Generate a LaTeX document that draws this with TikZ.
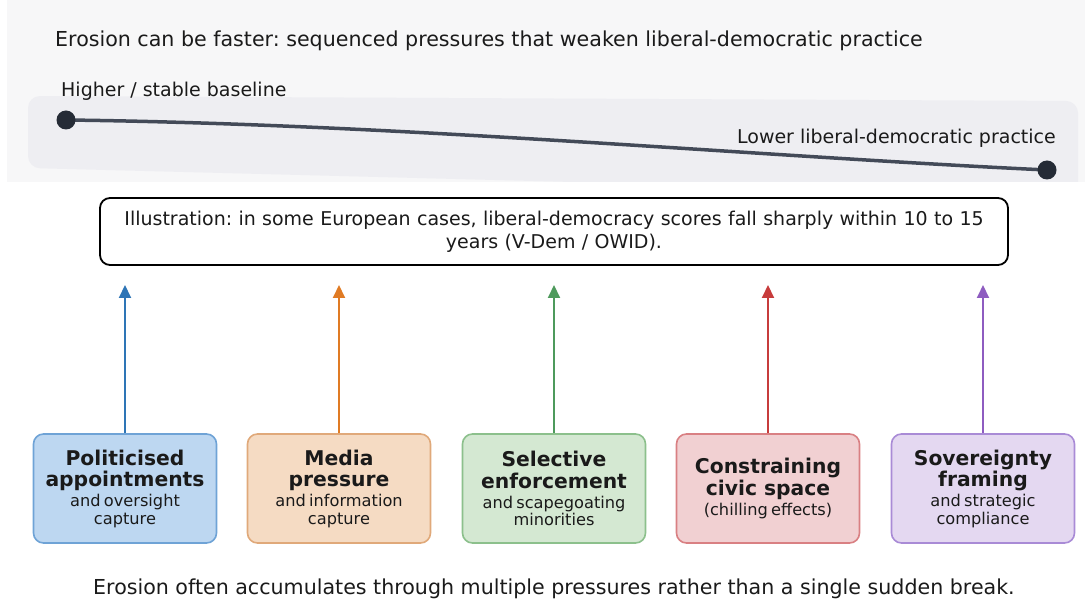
\documentclass[tikz,border=0pt]{standalone}
\usepackage{fontspec}
\setmainfont{DejaVu Sans}
\usetikzlibrary{arrows.meta}
\frenchspacing

\definecolor{panelbg}{HTML}{F7F7F8}
\definecolor{bandbg}{HTML}{EEEEF2}
\definecolor{trend}{HTML}{434A58}
\definecolor{trenddot}{HTML}{252B36}
\definecolor{txt}{HTML}{1A1A1A}

\definecolor{blueline}{HTML}{2E75B6}
\definecolor{bluefill}{HTML}{BDD7F1}
\definecolor{blueedge}{HTML}{6FA3D6}
\definecolor{orangeline}{HTML}{E07B24}
\definecolor{orangefill}{HTML}{F5DBC3}
\definecolor{orangeedge}{HTML}{E0A97A}
\definecolor{greenline}{HTML}{4E9A5C}
\definecolor{greenfill}{HTML}{D4E8D2}
\definecolor{greenedge}{HTML}{8CC08C}
\definecolor{redline}{HTML}{C73C3C}
\definecolor{redfill}{HTML}{F1D0D2}
\definecolor{rededge}{HTML}{D98083}
\definecolor{purpleline}{HTML}{8E5CC0}
\definecolor{purplefill}{HTML}{E4D8F1}
\definecolor{purpleedge}{HTML}{A98BD6}

% heading (bold) and detail (regular) of a pressure card
\newcommand\cardtext[2]{%
  {\fontsize{20.3}{21.5}\selectfont\bfseries #1\par}\vspace{2.5pt}%
  {\fontsize{16.2}{17.5}\selectfont #2\par}}

\begin{document}
\begin{tikzpicture}[x=1pt,y=-1pt,
  every node/.style={text=txt, inner sep=0pt},
  card/.style n args={2}{draw=#1, fill=#2, line width=1.6pt,
    rounded corners=10pt, minimum width=183pt, minimum height=109pt,
    align=center, text width=178pt},
  feed/.style={-{Triangle[length=13pt,width=12pt]}, line width=2pt},
  labeltext/.style={font=\fontsize{19}{22}\selectfont},
  headtext/.style={font=\fontsize{20.6}{24}\selectfont},
  dotmark/.style={fill=trenddot}
]
\useasboundingbox (0,0) rectangle (1085,601);

% top panel with the trend band
\fill[panelbg] (7,0) rectangle (1085,182);
\begin{scope}
  \clip (7,0) rectangle (1085,182);
  \fill[bandbg, rounded corners=12pt] (28,96) -- (1078,101) -- (1078,195) -- (28,168) -- cycle;
\end{scope}

\node[headtext, anchor=base west] (title) at (55,47)
  {Erosion can be faster: sequenced pressures that weaken liberal-democratic practice};

\node[labeltext, anchor=base west] (hilabel) at (61,97) {Higher / stable baseline};
\node[labeltext, anchor=base east] (lolabel) at (1056,144) {Lower liberal-democratic practice};

\coordinate (hi) at (66,120);
\coordinate (lo) at (1047,170);
\draw[trend, line width=3.5pt, line cap=round] (hi) .. controls (400,124) and (750,156) .. (lo);
\fill[dotmark] (hi) circle (9.5pt);
\fill[dotmark] (lo) circle (9.5pt);

% illustration note
\node[draw=black, line width=1.8pt, rounded corners=10pt, fill=white,
      minimum width=908pt, minimum height=67pt, align=center, text width=890pt,
      font=\fontsize{19}{23}\selectfont] (note) at (554,231.5)
  {Illustration: in some European cases, liberal-democracy scores fall sharply within 10 to 15\\years (V-Dem / OWID).};

% pressure cards
\node[card={blueedge}{bluefill}] (p1) at (125,488.5)
  {\cardtext{Politicised\\appointments}{and oversight\\capture}};
\node[card={orangeedge}{orangefill}] (p2) at (339,488.5)
  {\cardtext{Media\\pressure}{and information\\capture}};
\node[card={greenedge}{greenfill}] (p3) at (554,488.5)
  {\cardtext{Selective\\enforcement}{and scapegoating\\minorities}};
\node[card={rededge}{redfill}] (p4) at (768,488.5)
  {\cardtext{Constraining\\civic\hspace{0.34em}space}{(chilling effects)}};
\node[card={purpleedge}{purplefill}] (p5) at (983,488.5)
  {\cardtext{Sovereignty\\framing}{and strategic\\compliance}};

% arrows pointing up towards the note
\coordinate (t1) at (125,285);
\coordinate (t2) at (339,285);
\coordinate (t3) at (554,285);
\coordinate (t4) at (768,285);
\coordinate (t5) at (983,285);
\draw[feed, blueline]   (p1.north) -- (t1);
\draw[feed, orangeline] (p2.north) -- (t2);
\draw[feed, greenline]  (p3.north) -- (t3);
\draw[feed, redline]    (p4.north) -- (t4);
\draw[feed, purpleline] (p5.north) -- (t5);

\node[headtext, anchor=base west] (caption) at (93,594)
  {Erosion often accumulates through multiple pressures rather than a single sudden break.};
\end{tikzpicture}
\end{document}
